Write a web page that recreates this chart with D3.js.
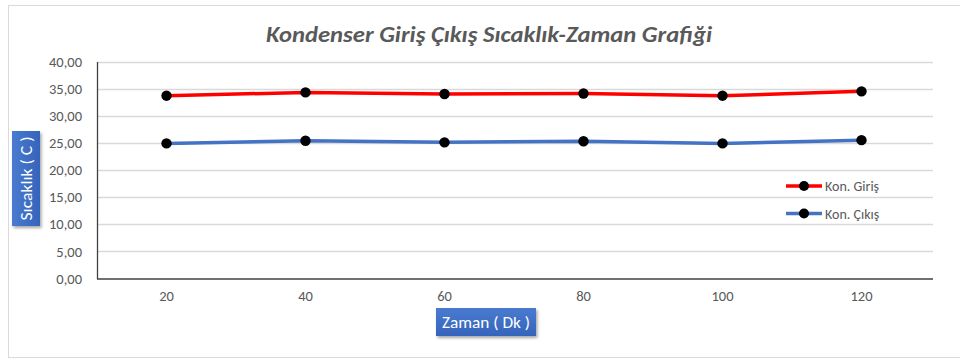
<!DOCTYPE html>
<html>
<head>
<meta charset="utf-8">
<script src="https://cdn.jsdelivr.net/npm/d3@7/dist/d3.min.js"></script>
<style>
  html, body { margin: 0; padding: 0; background: #fff; }
  svg { display: block; }
</style>
</head>
<body>
<svg id="chart" width="960" height="360"></svg>
<script>
// Chart data
const categories = ["20", "40", "60", "80", "100", "120"];
const konGiris = [33.7, 34.3, 34.0, 34.1, 33.7, 34.5];
const konCikis = [24.9, 25.4, 25.1, 25.3, 24.9, 25.5];
const yTicks = [0, 5, 10, 15, 20, 25, 30, 35, 40];
const seriesNames = ["Kon. Giriş", "Kon. Çıkış"];
const seriesColors = ["#ff0000", "#4472c4"];
const titleText = "Kondenser Giriş Çıkış Sıcaklık-Zaman Grafiği";
const yTitle = "Sıcaklık ( C )";
const xTitle = "Zaman ( Dk )";

(function () {
const svg = d3.select("#chart");
const font = "Calibri, Carlito, 'Liberation Sans Narrow', 'Open Sans', sans-serif";

// Chart frame
svg.append("rect")
  .attr("x", 8.5).attr("y", 5.5).attr("width", 960).attr("height", 352)
  .attr("fill", "#fff").attr("stroke", "#d9d9d9").attr("stroke-width", 1);

const defs = svg.append("defs");
const sh = defs.append("filter").attr("id", "shadow").attr("x", "-20%").attr("y", "-20%").attr("width", "150%").attr("height", "160%");
sh.append("feDropShadow").attr("dx", 1.5).attr("dy", 2).attr("stdDeviation", 1.5).attr("flood-color", "#000").attr("flood-opacity", 0.35);
const grad = defs.append("linearGradient").attr("id", "boxfill").attr("x1", 0).attr("y1", 0).attr("x2", 0).attr("y2", 1);
grad.append("stop").attr("offset", "0%").attr("stop-color", "#4a7bd0");
grad.append("stop").attr("offset", "100%").attr("stop-color", "#3564bb");
const gradV = defs.append("linearGradient").attr("id", "boxfillV").attr("x1", 0).attr("y1", 0).attr("x2", 1).attr("y2", 0);
gradV.append("stop").attr("offset", "0%").attr("stop-color", "#4a7bd0");
gradV.append("stop").attr("offset", "100%").attr("stop-color", "#3564bb");

// Plot area
const plotLeft = 97, plotRight = 931, plotTop = 61.5, plotBottom = 278.5;

const x = d3.scaleBand().domain(categories).range([plotLeft, plotRight]);
const y = d3.scaleLinear().domain([0, 40]).range([plotBottom, plotTop]);

// Horizontal gridlines
svg.append("g")
  .selectAll("line")
  .data(yTicks.filter(d => d > 0))
  .join("line")
  .attr("x1", plotLeft).attr("x2", plotRight + 2)
  .attr("y1", d => Math.round(y(d)) + 0.5).attr("y2", d => Math.round(y(d)) + 0.5)
  .attr("stroke", "#d9d9d9").attr("stroke-width", 1.3);

// Y axis
const yAxis = svg.append("g")
  .attr("transform", `translate(${plotLeft},0)`)
  .call(d3.axisLeft(y).tickValues(yTicks).tickSize(0).tickPadding(15)
    .tickFormat(d => d3.format(".2f")(d).replace(".", ",")));
yAxis.select(".domain").attr("stroke", "#404040").attr("stroke-width", 1.3);
yAxis.selectAll("text")
  .attr("font-family", font).attr("font-size", 14.5).attr("fill", "#595959");

// X axis
const xAxis = svg.append("g")
  .attr("transform", `translate(0,${plotBottom})`)
  .call(d3.axisBottom(x).tickSize(0).tickPadding(12));
xAxis.select(".domain").attr("stroke", "#404040").attr("stroke-width", 1.5)
  .attr("d", `M${plotLeft},0.5H${plotRight + 2}`);
xAxis.selectAll("text")
  .attr("font-family", font).attr("font-size", 14.5).attr("fill", "#595959");

// Series lines and markers
const line = d3.line()
  .x((d, i) => x(categories[i]) + x.bandwidth() / 2)
  .y(d => y(d));

[konGiris, konCikis].forEach((vals, si) => {
  svg.append("path")
    .datum(vals)
    .attr("d", line)
    .attr("fill", "none")
    .attr("stroke", seriesColors[si])
    .attr("stroke-width", 3.5)
    .attr("stroke-linejoin", "round")
    .attr("stroke-linecap", "round");
  svg.append("g")
    .selectAll("circle")
    .data(vals)
    .join("circle")
    .attr("cx", (d, i) => x(categories[i]) + x.bandwidth() / 2)
    .attr("cy", d => y(d))
    .attr("r", 5.2)
    .attr("fill", "#000");
});

// Title
svg.append("text")
  .attr("x", 489).attr("y", 42)
  .attr("text-anchor", "middle")
  .attr("font-family", font)
  .attr("font-size", 22).attr("font-style", "italic").attr("font-weight", "bold")
  .attr("fill", "#595959")
  .attr("textLength", 446).attr("lengthAdjust", "spacingAndGlyphs")
  .text(titleText);

// Y axis title box
const yBox = svg.append("g");
yBox.append("rect")
  .attr("x", 12).attr("y", 131).attr("width", 28).attr("height", 95)
  .attr("fill", "url(#boxfillV)").attr("filter", "url(#shadow)");
yBox.append("text")
  .attr("transform", "translate(32,178.5) rotate(-90)")
  .attr("text-anchor", "middle")
  .attr("font-family", font).attr("font-size", 16).attr("fill", "#fff")
  .attr("textLength", 84).attr("lengthAdjust", "spacingAndGlyphs")
  .text(yTitle);

// X axis title box
const xBox = svg.append("g");
xBox.append("rect")
  .attr("x", 436).attr("y", 308).attr("width", 100).attr("height", 28)
  .attr("fill", "url(#boxfill)").attr("filter", "url(#shadow)");
xBox.append("text")
  .attr("x", 486).attr("y", 328)
  .attr("text-anchor", "middle")
  .attr("font-family", font).attr("font-size", 16).attr("fill", "#fff")
  .attr("textLength", 88).attr("lengthAdjust", "spacingAndGlyphs")
  .text(xTitle);

// Legend
const legend = svg.append("g");
seriesNames.forEach((name, i) => {
  const ly = 186 + i * 27.5;
  legend.append("line")
    .attr("x1", 786).attr("x2", 822).attr("y1", ly).attr("y2", ly)
    .attr("stroke", seriesColors[i]).attr("stroke-width", 3.5);
  legend.append("circle")
    .attr("cx", 804).attr("cy", ly).attr("r", 5).attr("fill", "#000");
  legend.append("text")
    .attr("x", 825).attr("y", ly + 5)
    .attr("font-family", font).attr("font-size", 14).attr("fill", "#595959")
    .text(name);
});
})();
</script>
</body>
</html>
